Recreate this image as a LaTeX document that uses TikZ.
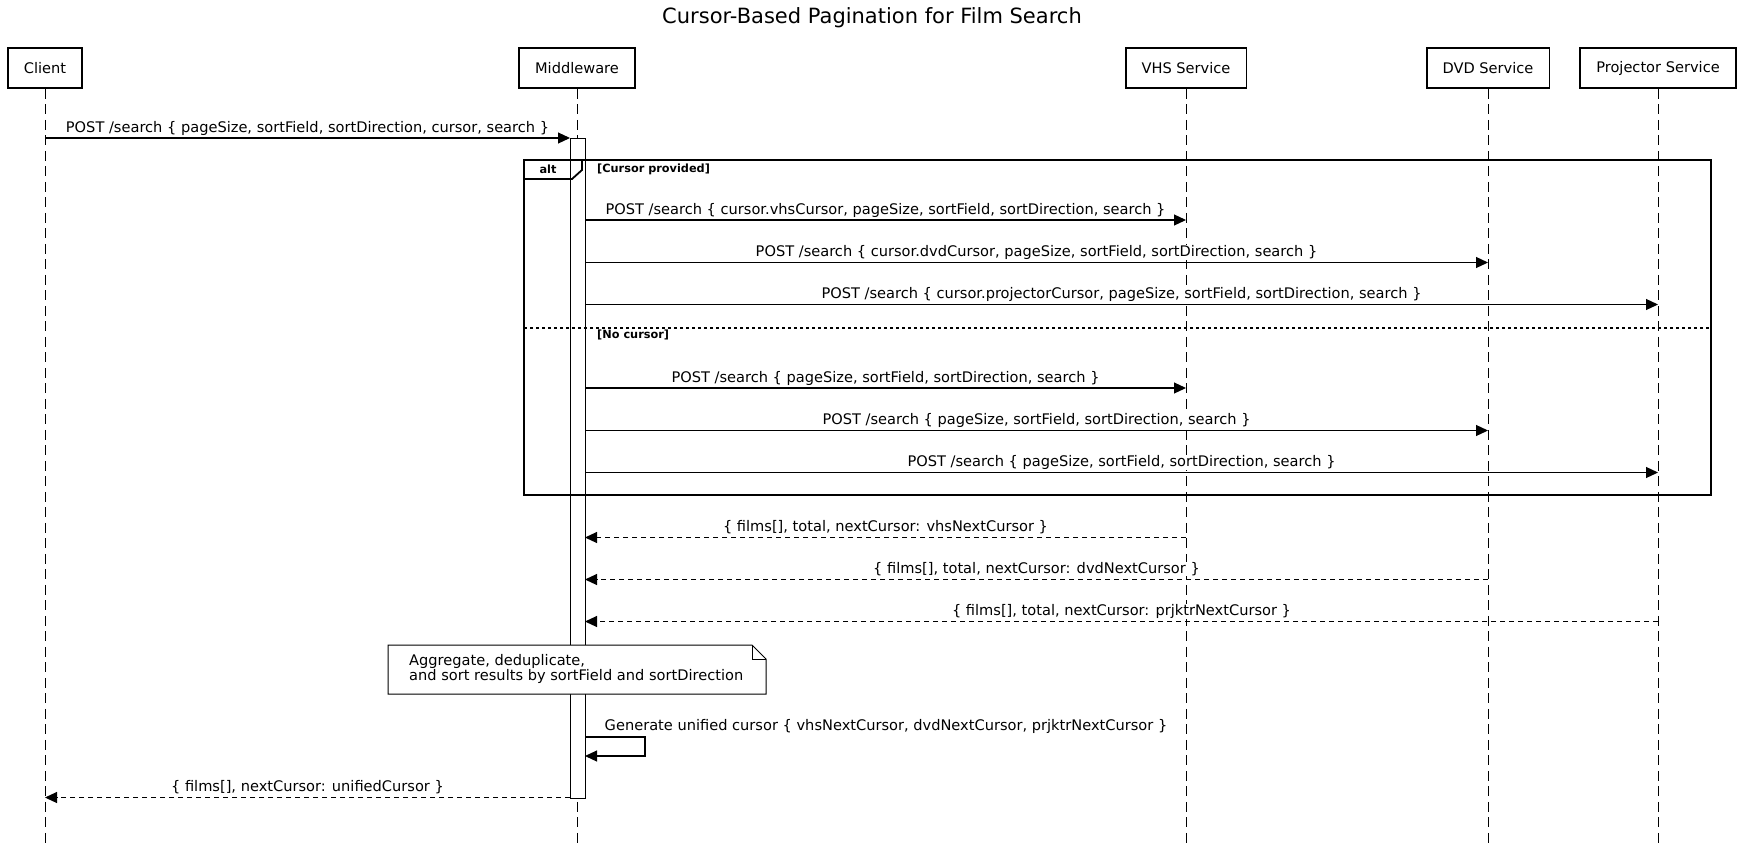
\documentclass[tikz,border=0pt]{standalone}
\usepackage{fontspec}
\setmainfont{DejaVu Sans}
\usetikzlibrary{arrows.meta}

\begin{document}
\begin{tikzpicture}[x=1pt,y=-1pt,
  actor/.style={draw,line width=1.8pt,minimum height=40pt,inner xsep=16pt,inner ysep=0pt,
    font=\fontsize{14.6}{14.6}\selectfont},
  lifeline/.style={line width=0.9pt,dash pattern=on 10pt off 5.5pt},
  msg/.style={line width=1.1pt,-{Triangle[length=12pt,width=11pt]}},
  reply/.style={msg,dash pattern=on 5pt off 4pt},
  lbl/.style={font=\fontsize{14.6}{14.6}\selectfont,fill=white,inner sep=0pt,anchor=base,yshift=6pt},
  frame/.style={line width=1.8pt},
  fraflbl/.style={font=\fontsize{11.3}{11.3}\selectfont\bfseries,inner sep=0pt}]
\useasboundingbox (0,0) rectangle (1744,851);

% Title
\node[font=\fontsize{21}{21}\selectfont] (title) at (872,17.8) {Cursor-Based Pagination for Film Search};

% Participants
\node[actor] (client) at (45,68) {Client};
\node[actor] (mw) at (577,68) {Middleware};
\node[actor] (vhs) at (1186,68) {VHS Service};
\node[actor] (dvd) at (1488,68) {DVD Service};
\node[actor] (proj) at (1658,68) {Projector Service};

% Lifelines
\foreach \p in {client,mw,vhs,dvd,proj}
  \draw[lifeline] (\p.south) -- (\p |- 0,848);

% Activation bar of the middleware
\node[draw,fill=white,line width=1pt,outer sep=0pt,inner sep=0pt,
  minimum width=15pt,minimum height=660pt] (mwbar) at (577.5,468) {};

% Request from the client
\draw[msg] (client |- 0,138) -- (mwbar.west |- 0,138)
  node[lbl,midway] {POST /search \{ pageSize, sortField, sortDirection, cursor, search \}};

% alt frame
\draw[frame] (524,160) rectangle (1711,495);
\draw[frame] (524,179) -- (572,179) -- (582,170) -- (582,160);
\node[fraflbl] (alt) at (548,169.5) {alt};
\node[fraflbl,anchor=west] (case1) at (597,169) {[Cursor provided]};
\draw[line width=1.8pt,dash pattern=on 3pt off 3pt] (524,328) -- (1711,328);
\node[fraflbl,anchor=west] (case2) at (597,335) {[No cursor]};

% Cursor provided
\draw[msg] (mwbar.east |- 0,220) -- (vhs |- 0,220)
  node[lbl,midway] {POST /search \{ cursor.vhsCursor, pageSize, sortField, sortDirection, search \}};
\draw[msg] (mwbar.east |- 0,262.5) -- (dvd |- 0,262.5)
  node[lbl,midway] {POST /search \{ cursor.dvdCursor, pageSize, sortField, sortDirection, search \}};
\draw[msg] (mwbar.east |- 0,304.5) -- (proj |- 0,304.5)
  node[lbl,midway] {POST /search \{ cursor.projectorCursor, pageSize, sortField, sortDirection, search \}};

% No cursor
\draw[msg] (mwbar.east |- 0,388) -- (vhs |- 0,388)
  node[lbl,midway] {POST /search \{ pageSize, sortField, sortDirection, search \}};
\draw[msg] (mwbar.east |- 0,430.5) -- (dvd |- 0,430.5)
  node[lbl,midway] {POST /search \{ pageSize, sortField, sortDirection, search \}};
\draw[msg] (mwbar.east |- 0,472.5) -- (proj |- 0,472.5)
  node[lbl,midway] {POST /search \{ pageSize, sortField, sortDirection, search \}};

% Replies
\draw[reply] (vhs |- 0,537.5) -- (mwbar.east |- 0,537.5)
  node[lbl,midway] {\{ films[], total, nextCursor: vhsNextCursor \}};
\draw[reply] (dvd |- 0,579.5) -- (mwbar.east |- 0,579.5)
  node[lbl,midway] {\{ films[], total, nextCursor: dvdNextCursor \}};
\draw[reply] (proj |- 0,621.5) -- (mwbar.east |- 0,621.5)
  node[lbl,midway] {\{ films[], total, nextCursor: prjktrNextCursor \}};

% Note
\draw[fill=white,line width=1pt] (388,645) -- (752,645) -- (766,659) -- (766,694) -- (388,694) -- cycle;
\draw[line width=1pt] (752,645) -- (752,659) -- (766,659);
\node[font=\fontsize{14.6}{14.6}\selectfont,align=left,anchor=west,inner sep=0pt] (agg) at (409,669)
  {Aggregate, deduplicate,\\and sort results by sortField and sortDirection};

% Self message
\coordinate (loopr) at (645,737);
\draw[msg] (mwbar.east |- 0,737) -- (loopr) -- (loopr |- 0,756) -- (mwbar.east |- 0,756);
\node[lbl,yshift=0pt] (genlbl) at (886,736.5)
  {Generate unified cursor \{ vhsNextCursor, dvdNextCursor, prjktrNextCursor \}};

% Answer to the client
\draw[reply] (mwbar.west |- 0,797.5) -- (client |- 0,797.5)
  node[lbl,midway] {\{ films[], nextCursor: unifiedCursor \}};
\end{tikzpicture}
\end{document}
